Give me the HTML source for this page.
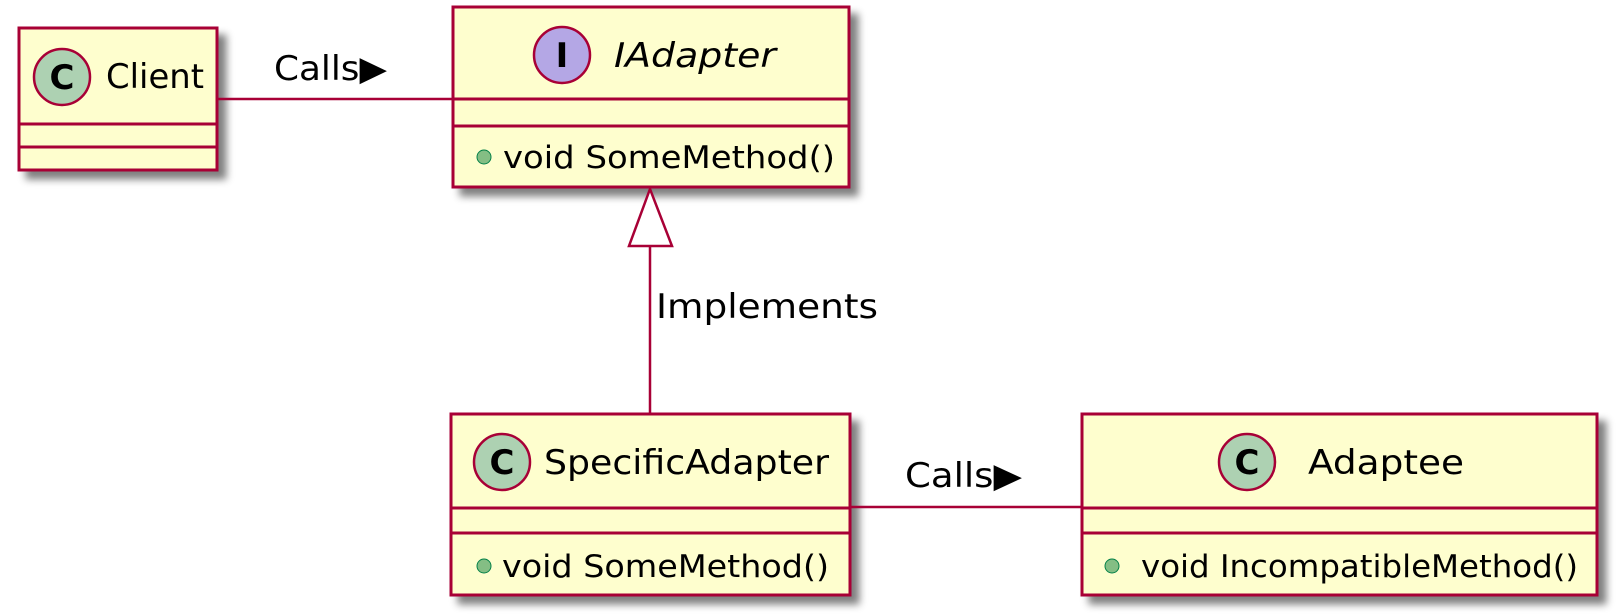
<!DOCTYPE html>
<html><head><meta charset="utf-8"><style>
html,body{margin:0;padding:0;background:#fff;}
svg{display:block;}
text{font-family:"DejaVu Sans","Liberation Sans",sans-serif;fill:#000;}
</style></head><body>
<svg width="1622" height="616" viewBox="0 0 1622 616" xmlns="http://www.w3.org/2000/svg">
<defs>
<filter id="sh" x="-10%" y="-10%" width="130%" height="130%">
<feGaussianBlur in="SourceAlpha" stdDeviation="4"/>
<feOffset dx="8" dy="8" result="b"/>
<feComponentTransfer><feFuncA type="linear" slope="0.5"/></feComponentTransfer>
<feMerge><feMergeNode/><feMergeNode in="SourceGraphic"/></feMerge>
</filter>
</defs>
<g stroke="#A80036" stroke-width="3" fill="#FEFECE">
<rect x="19" y="28" width="198" height="142" filter="url(#sh)"/>
<rect x="453" y="7" width="396" height="180" filter="url(#sh)"/>
<rect x="451" y="414" width="399" height="181" filter="url(#sh)"/>
<rect x="1082" y="414" width="515" height="181" filter="url(#sh)"/>
<line x1="19" y1="124" x2="217" y2="124"/>
<line x1="19" y1="147" x2="217" y2="147"/>
<line x1="453" y1="99" x2="849" y2="99"/>
<line x1="453" y1="126" x2="849" y2="126"/>
<line x1="451" y1="508" x2="850" y2="508"/>
<line x1="451" y1="533" x2="850" y2="533"/>
<line x1="1082" y1="508" x2="1597" y2="508"/>
<line x1="1082" y1="533" x2="1597" y2="533"/>
<line x1="217" y1="99" x2="453" y2="99" stroke-width="2.5"/>
<line x1="850" y1="507" x2="1082" y2="507" stroke-width="2.5"/>
<line x1="650" y1="246" x2="650" y2="414" stroke-width="2.5"/>
<polygon points="650,189 629,246 672,246" fill="#fff" stroke-width="2.5"/>
<circle cx="62" cy="77" r="28" fill="#ADD1B2" stroke-width="2.5"/>
<circle cx="562" cy="55" r="28" fill="#B4A7E5" stroke-width="2.5"/>
<circle cx="502" cy="462" r="28" fill="#ADD1B2" stroke-width="2.5"/>
<circle cx="1247" cy="462" r="28" fill="#ADD1B2" stroke-width="2.5"/>
</g>
<g fill="#84BE84" stroke="#038048" stroke-width="1">
<circle cx="484" cy="157" r="7"/>
<circle cx="484" cy="566" r="7"/>
<circle cx="1112" cy="566" r="7"/>
</g>
<g font-weight="bold" font-size="34" text-anchor="middle">
<text x="62" y="89">C</text>
<text x="562" y="67">I</text>
<text x="502" y="474">C</text>
<text x="1247" y="474">C</text>
</g>
<g font-size="34">
<text x="106" y="88" textLength="98" lengthAdjust="spacingAndGlyphs">Client</text>
<text x="614" y="67" font-style="italic" textLength="162" lengthAdjust="spacingAndGlyphs">IAdapter</text>
<text x="544" y="474" textLength="285" lengthAdjust="spacingAndGlyphs">SpecificAdapter</text>
<text x="1308" y="474" textLength="156" lengthAdjust="spacingAndGlyphs">Adaptee</text>
<text x="274" y="80" textLength="113" lengthAdjust="spacingAndGlyphs">Calls▶</text>
<text x="905" y="487" textLength="117" lengthAdjust="spacingAndGlyphs">Calls▶</text>
<text x="656" y="318" textLength="222" lengthAdjust="spacingAndGlyphs">Implements</text>
</g>
<g font-size="31">
<text x="503" y="168" textLength="332" lengthAdjust="spacingAndGlyphs">void SomeMethod()</text>
<text x="502" y="577" textLength="327" lengthAdjust="spacingAndGlyphs">void SomeMethod()</text>
<text x="1141" y="577" textLength="437" lengthAdjust="spacingAndGlyphs">void IncompatibleMethod()</text>
</g>
</svg>
</body></html>
